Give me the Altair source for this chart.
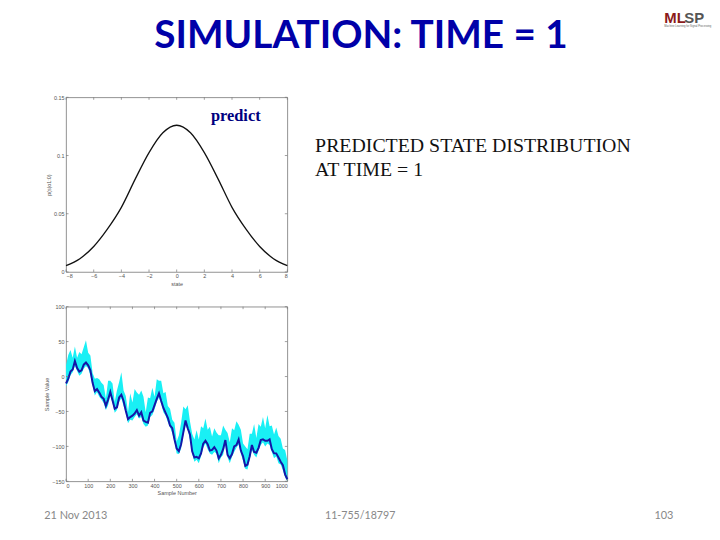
import altair as alt
import pandas as pd

state = [-8, -7, -6, -5, -4, -3, -2, -1, 0, 1, 2, 3, 4, 5, 6, 7, 8]
prob = [0.0054, 0.0114, 0.0219, 0.037, 0.0555, 0.0797, 0.1025, 0.1195, 0.126,
        0.1195, 0.1025, 0.0797, 0.0555, 0.037, 0.0219, 0.0114, 0.0054]

samples = list(range(0, 1001, 10))
dark = [-10,-3,7,10,22,12,7,9,17,20,
        16,9,-9,-21,-18,-23,-29,-32,-42,-33,
        -22,-34,-46,-44,-30,-26,-35,-49,-61,-58,
        -56,-53,-48,-56,-51,-63,-65,-66,-52,-50,
        -41,-32,-24,-35,-45,-52,-59,-70,-74,-90,
        -103,-107,-97,-80,-63,-74,-83,-107,-116,-115,
        -117,-110,-96,-92,-97,-106,-105,-101,-106,-117,
        -112,-104,-91,-112,-117,-111,-100,-98,-90,-106,
        -114,-128,-126,-114,-98,-108,-109,-102,-91,-90,
        -92,-92,-90,-104,-110,-110,-116,-122,-127,-140,-147]
upper = [16,31,38,27,43,27,35,32,42,52,
         34,30,5,-3,-2,-4,-9,-12,-31,-6,
         -6,-10,-36,-20,-8,6,-20,-28,-51,-24,
         -37,-18,-23,-26,-20,-29,-51,-30,-31,-16,
         -29,-4,-6,-6,-24,-22,-42,-46,-62,-66,
         -93,-84,-66,-43,-47,-41,-64,-82,-90,-77,
         -90,-71,-74,-60,-76,-72,-86,-74,-80,-84,
         -84,-70,-76,-81,-94,-74,-77,-64,-69,-76,
         -96,-100,-104,-82,-82,-68,-88,-68,-72,-58,
         -74,-55,-71,-70,-83,-73,-85,-89,-103,-105,-120]
lower = [-14,-8,2,6,15,8,1,4,11,15,
         12,2,-13,-27,-22,-29,-33,-38,-48,-41,
         -27,-38,-52,-48,-36,-31,-42,-52,-67,-62,
         -63,-58,-54,-60,-58,-68,-72,-70,-58,-55,
         -47,-36,-30,-39,-51,-56,-65,-73,-81,-93,
         -110,-111,-103,-84,-70,-77,-90,-110,-122,-119,
         -124,-114,-102,-96,-104,-110,-112,-108,-110,-124,
         -116,-112,-96,-116,-124,-115,-108,-102,-97,-110,
         -121,-132,-133,-118,-105,-112,-116,-106,-98,-94,
         -100,-96,-98,-108,-117,-114,-124,-126,-134,-144,-150]

x1_ticks = [-8, -6, -4, -2, 0, 2, 4, 6, 8]
y1_ticks = [0, 0.05, 0.1, 0.15]
y1_labels = "datum.value === 0 ? '0' : format(datum.value, '.2~f')"
x2_ticks = list(range(0, 1001, 100))
y2_ticks = [-150, -100, -50, 0, 50, 100]

W, H = 223, 176
GREY = "#777777"
ORIGIN_X, ORIGIN_Y1, ORIGIN_Y2 = 64, 96, 306


def note(text, px, py, origin_y, size, color, font, weight="normal", align="left"):
    return alt.Chart(pd.DataFrame({"t": [text]})).mark_text(
        align=align, baseline="alphabetic", fontSize=size, color=color, font=font,
        fontWeight=weight, clip=False
    ).encode(x=alt.value(px - ORIGIN_X), y=alt.value(py - origin_y), text="t:N")


def axis(title, values, expr=None, fmt=None):
    kw = dict(title=title, values=values, tickSize=0, domain=False, grid=False,
              labelFontSize=5.5, labelColor="#555555", labelPadding=2,
              titleFontSize=5.5, titleColor="#555555", titleFontWeight="normal",
              titlePadding=2, labelFont="Liberation Sans", titleFont="Liberation Sans")
    if expr:
        kw["labelExpr"] = expr
    if fmt:
        kw["format"] = fmt
    return alt.Axis(**kw)


def x_ticks(values, scale, ax):
    base = alt.Chart(pd.DataFrame({"v": values})).mark_rule(color=GREY, strokeWidth=0.7)
    enc = alt.X("v:Q", scale=scale, axis=ax)
    return [base.encode(x=enc, y=alt.value(0), y2=alt.value(2.5)),
            base.encode(x=enc, y=alt.value(H), y2=alt.value(H - 2.5))]


def y_ticks(values, scale, ax):
    base = alt.Chart(pd.DataFrame({"v": values})).mark_rule(color=GREY, strokeWidth=0.7)
    enc = alt.Y("v:Q", scale=scale, axis=ax)
    return [base.encode(y=enc, x=alt.value(0), x2=alt.value(2.5)),
            base.encode(y=enc, x=alt.value(W), x2=alt.value(W - 2.5))]


sx1 = alt.Scale(domain=[-8, 8], nice=False)
sy1 = alt.Scale(domain=[0, 0.15], nice=False)
sx2 = alt.Scale(domain=[0, 1000], nice=False)
sy2 = alt.Scale(domain=[-150, 100], nice=False)
ax1 = axis("state", x1_ticks)
ay1 = axis("p(s|o1:0)", y1_ticks, y1_labels)
ax2 = axis("Sample Number", x2_ticks, fmt="d")
ay2 = axis("Sample Value", y2_ticks)

curve = alt.Chart(pd.DataFrame({"s": state, "p": prob})).mark_line(
    color="#111111", strokeWidth=1.3, interpolate="monotone"
).encode(
    x=alt.X("s:Q", scale=sx1, axis=ax1),
    y=alt.Y("p:Q", scale=sy1, axis=ay1),
)

top = alt.layer(
    curve,
    *x_ticks(x1_ticks, sx1, ax1),
    *y_ticks(y1_ticks, sy1, ay1),
    note("SIMULATION: TIME = 1", 153, 46, ORIGIN_Y1, 39, "#0000a8", "Lato", "bold"),
    note("predict", 210, 120, ORIGIN_Y1, 16.5, "#000080", "Liberation Serif", "bold"),
    note("PREDICTED STATE DISTRIBUTION", 315, 151, ORIGIN_Y1, 20, "#111111", "Liberation Serif"),
    note("AT TIME = 1", 315, 175, ORIGIN_Y1, 20, "#111111", "Liberation Serif"),
    note("ML", 667, 21, ORIGIN_Y1, 15, "#8b1a1a", "Liberation Sans", "bold"),
    note("SP", 687, 21, ORIGIN_Y1, 15, "#555555", "Liberation Sans", "bold"),
    note("Machine Learning for Signal Processing", 667, 25, ORIGIN_Y1, 2.7, "#666666", "Liberation Sans"),
).properties(width=W, height=H)

df2 = pd.DataFrame({"n": samples, "d": dark, "u": upper, "l": lower})
band = alt.Chart(df2).mark_area(color="#19f0f5", opacity=1).encode(
    x=alt.X("n:Q", scale=sx2, axis=ax2),
    y=alt.Y("u:Q", scale=sy2, axis=ay2),
    y2="l:Q",
)
mean = alt.Chart(df2).mark_line(color="#1515a8", strokeWidth=2).encode(
    x=alt.X("n:Q", scale=sx2, axis=ax2),
    y=alt.Y("d:Q", scale=sy2, axis=ay2),
)

bottom = alt.layer(
    band, mean,
    *x_ticks(x2_ticks, sx2, ax2),
    *y_ticks(y2_ticks, sy2, ay2),
    note("21  Nov 2013", 42, 520, ORIGIN_Y2, 11, "#888888", "Lato"),
    note("11-755/18797", 325, 520, ORIGIN_Y2, 10.7, "#888888", "Lato"),
    note("103", 657, 520, ORIGIN_Y2, 11, "#888888", "Lato"),
).properties(width=W, height=H)

chart = alt.vconcat(top, bottom, spacing=16).properties(
    padding={"left": 35.5, "top": 0, "right": 0, "bottom": 0},
    background="white",
).configure_view(stroke=GREY, strokeWidth=0.8)

chart.save("out.html", embed_options={"renderer": "svg", "actions": False})
